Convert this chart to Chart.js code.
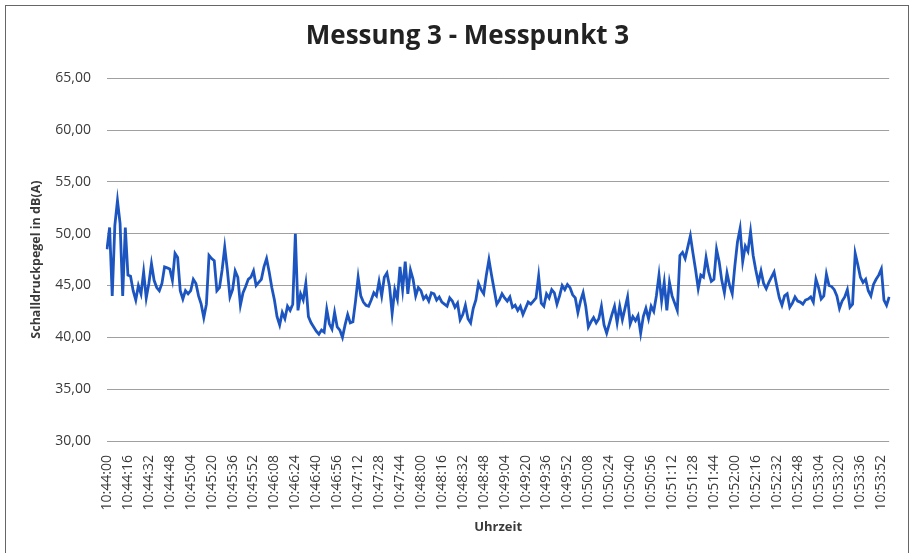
<!DOCTYPE html>
<html>
<head>
<meta charset="utf-8">
<script src="https://cdn.jsdelivr.net/npm/chart.js@4.4.1/dist/chart.umd.min.js"></script>
<style>
  body { margin: 0; background: #fff; }
  #frame { position: absolute; left: 5px; top: 5px; width: 902px; height: 600px; border: 1px solid #666; }
  #wrap { position: absolute; left: 0; top: 0; width: 912px; height: 553px; }
</style>
</head>
<body>
<div id="frame"></div>
<div id="wrap"><canvas id="pegel-chart"></canvas></div>
<script>
// Messwerte alle 2 Sekunden ab 10:44:00
var startZeit = "10:44:00";
var schrittSek = 2;
var labelJedeSek = 16;
var pegel = [
  48.5, 50.6, 44.0, 50.8, 53.2, 51.0, 44.0, 50.6, 46.0, 45.9,
  44.5, 43.6, 45.0, 44.2, 46.3, 43.8, 45.2, 47.1, 45.5, 44.8,
  44.5, 45.2, 46.8, 46.7, 46.6, 45.5, 48.1, 47.7, 44.5, 43.7,
  44.5, 44.2, 44.5, 45.6, 45.2, 44.0, 43.2, 41.9, 43.2, 47.9,
  47.6, 47.4, 44.5, 44.8, 46.5, 48.7, 46.5, 43.9, 44.6, 46.4,
  45.8, 43.1, 44.3, 44.9, 45.6, 45.8, 46.4, 45.0, 45.3, 45.6,
  46.8, 47.6, 46.3, 44.8, 43.6, 42.0, 41.2, 42.4, 41.8, 43.0,
  42.6, 43.2, 50.0, 42.6, 44.2, 43.6, 45.2, 42.0, 41.4, 41.0,
  40.6, 40.3, 40.7, 40.5, 42.7, 41.3, 40.8, 42.4, 41.0, 40.7,
  40.0, 41.2, 42.2, 41.4, 41.5, 43.5, 45.8, 44.0, 43.4, 43.1,
  43.0, 43.6, 44.3, 44.0, 45.4, 44.0, 45.8, 46.2, 44.9, 42.3,
  44.6, 43.7, 46.8, 44.6, 47.3, 44.2, 46.5, 45.6, 44.0, 44.8,
  44.5, 43.7, 44.0, 43.5, 44.3, 44.2, 43.6, 43.9, 43.4, 43.2,
  43.0, 43.8, 43.5, 42.9, 43.3, 41.7, 42.2, 43.1, 41.8, 41.4,
  42.8, 43.6, 45.2, 44.6, 44.2, 46.0, 47.5, 46.0, 44.6, 43.2,
  43.6, 44.2, 43.8, 43.5, 43.9, 42.9, 43.1, 42.6, 43.0, 42.2,
  42.8, 43.4, 43.2, 43.5, 43.8, 45.9, 43.3, 43.0, 44.2, 43.8,
  44.6, 44.3, 43.2, 44.0, 45.0, 44.6, 45.1, 44.8, 44.1, 43.8,
  42.4, 43.5, 44.3, 43.0, 41.0, 41.5, 41.9, 41.4, 41.8, 43.0,
  41.2, 40.4, 41.3, 42.2, 43.0, 41.4, 43.0, 41.7, 42.8, 43.9,
  41.3, 42.0, 41.6, 42.1, 40.4, 42.0, 42.8, 41.8, 43.0, 42.5,
  44.0, 46.0, 43.5, 45.3, 42.6, 45.3, 44.0, 43.3, 42.6, 47.9,
  48.2, 47.6, 48.7, 49.8, 48.1, 46.5, 44.7, 46.0, 45.8, 47.7,
  46.3, 45.4, 45.6, 48.5, 47.3, 45.5, 44.3, 46.2, 45.0, 44.2,
  46.9, 49.2, 50.5, 47.3, 48.8, 48.3, 50.2, 47.9, 46.5, 45.3,
  46.4, 45.2, 44.7, 45.3, 45.8, 46.3, 45.0, 43.8, 43.1, 44.0,
  44.2, 42.9, 43.3, 43.9, 43.5, 43.4, 43.2, 43.6, 43.7, 43.9,
  43.4, 45.6, 44.8, 43.7, 44.0, 46.1, 45.0, 44.9, 44.6, 44.0,
  42.8, 43.5, 43.9, 44.6, 42.9, 43.2, 48.1, 47.0, 45.8, 45.3,
  45.6, 44.5, 44.0, 45.1, 45.6, 46.0, 46.6, 43.6, 43.1, 43.9
];

// Uhrzeiten fuer jeden Messwert
function zeitLabel(sek) {
    var t = startZeit.split(":");
    var s = (+t[0]) * 3600 + (+t[1]) * 60 + (+t[2]) + sek;
    var p = function(n){ return (n < 10 ? "0" : "") + n; };
    return p(Math.floor(s / 3600)) + ":" + p(Math.floor(s / 60) % 60) + ":" + p(s % 60);
}
var uhrzeit = pegel.map(function(v, i){ return zeitLabel(i * schrittSek); });

var schrift = "'Open Sans', 'DejaVu Sans', sans-serif";
var textFarbe = "#3a3a3a";

var ctx = document.getElementById("pegel-chart");

var chartData = {
    labels: uhrzeit,
    datasets: [{
        label: "Messpunkt 3",
        data: pegel,
        borderColor: "#1d55c0",
        borderWidth: 2.8,
        pointRadius: 0,
        tension: 0,
        fill: false
    }]
};

var chartOptions = {
    responsive: true,
    maintainAspectRatio: false,
    animation: false,
    layout: { padding: { left: 30, right: 7, top: 0, bottom: 0 } },
    plugins: {
        legend: { display: false },
        tooltip: { enabled: false },
        title: {
            display: true,
            text: "Messung 3 - Messpunkt 3",
            color: "#222",
            font: { family: schrift, size: 26, weight: "bold" },
            padding: { top: 21, bottom: 26 }
        }
    },
    scales: {
        x: {
            type: "category",
            grid: { display: false },
            border: { display: false },
            ticks: {
                autoSkip: false,
                minRotation: 90,
                maxRotation: 90,
                padding: 6,
                color: textFarbe,
                font: { family: schrift, size: 14 },
                callback: function(val, i) {
                    return (i * schrittSek) % labelJedeSek === 0 ? this.getLabelForValue(val) : "";
                }
            },
            title: {
                display: true,
                text: "Uhrzeit",
                color: textFarbe,
                font: { family: schrift, size: 13, weight: "bold" },
                padding: { top: 0, bottom: 18 }
            },
            afterFit: function(scale) { scale.height = 112; }
        },
        y: {
            min: 30,
            max: 65,
            grid: { color: "#a0a0a0", lineWidth: 1, drawTicks: false },
            border: { display: false },
            ticks: {
                stepSize: 5,
                padding: 16,
                color: textFarbe,
                font: { family: schrift, size: 14 },
                callback: function(v) { return v.toFixed(2).replace(".", ","); }
            },
            title: {
                display: true,
                text: "Schalldruckpegel in dB(A)",
                color: textFarbe,
                font: { family: schrift, size: 12.5, weight: "bold" },
                padding: { top: -1, bottom: 0 }
            },
            afterFit: function(scale) { scale.width = 77; }
        }
    }
};

var config = {
    type: "line",
    options: chartOptions,
    data: chartData
};

var pegelChart = new Chart(ctx, config);
</script>
</body>
</html>
